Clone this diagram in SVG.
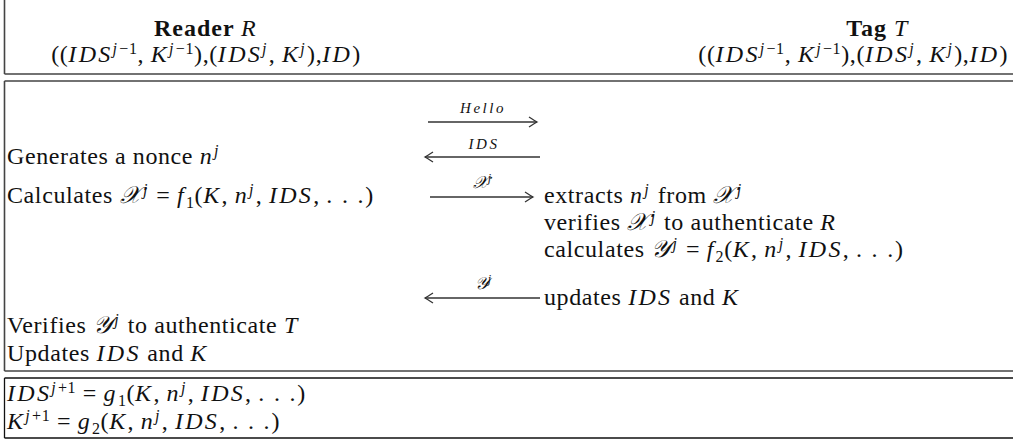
<svg xmlns="http://www.w3.org/2000/svg" width="1013" height="441" viewBox="0 0 1013 441">
<style>
.t{font-family:"Liberation Serif","DejaVu Serif",serif;font-size:24px;fill:#111;letter-spacing:0.6px}
.i{font-style:italic;letter-spacing:2.3px}
.b{font-weight:bold;letter-spacing:1px}
.sup{font-size:16px;baseline-shift:8px}
.sub{font-size:16px;baseline-shift:-5px}
.dots{letter-spacing:1.8px}
.lbl{font-family:"Liberation Serif","DejaVu Serif",serif;font-size:15px;font-style:italic;letter-spacing:2.5px;fill:#111}
.lblm{font-family:"Liberation Serif","DejaVu Serif",serif;font-size:17px;font-style:italic;fill:#111}
.frame{stroke:#444;stroke-width:1.6;fill:none}
.frame2{stroke:#111;stroke-width:1.3;fill:none}
.arr{stroke:#333;stroke-width:1.4;fill:none;marker-end:url(#ah)}
</style>
<defs>
<marker id="ah" viewBox="-9 -6 11 12" refX="0" refY="0" markerWidth="11" markerHeight="12" markerUnits="userSpaceOnUse" orient="auto">
<path d="M-8,-5 Q-2,-1 0,0 Q-2,1 -8,5" fill="none" stroke="#333" stroke-width="1.3"/>
</marker>
</defs>
<rect width="1013" height="441" fill="#fff"/>

<g id="frames">
<path class="frame" d="M4.5,0 V74 M4.5,74 H1013"/>
<path class="frame" d="M4.5,81 H1013 M4.5,81 V371 M4.5,371 H1013"/>
<path class="frame2" d="M4.5,378 H1013 M4.5,378 V438 M4.5,438 H1013"/>
</g>

<g id="reader-header">
<text class="t b" x="206" y="36" text-anchor="middle">Reader <tspan class="i" font-weight="normal">R</tspan></text>
<text class="t" x="206" y="62" text-anchor="middle">((<tspan class="i">IDS</tspan><tspan class="sup"><tspan class="i">j</tspan>−1</tspan>, <tspan class="i">K</tspan><tspan class="sup"><tspan class="i">j</tspan>−1</tspan>),(<tspan class="i">IDS</tspan><tspan class="sup i">j</tspan>, <tspan class="i">K</tspan><tspan class="sup i">j</tspan>),<tspan class="i">ID</tspan>)</text>
</g>

<g id="tag-header">
<text class="t b" x="878" y="36" text-anchor="middle">Tag <tspan class="i" font-weight="normal">T</tspan></text>
<text class="t" x="1008" y="62" text-anchor="end">((<tspan class="i">IDS</tspan><tspan class="sup"><tspan class="i">j</tspan>−1</tspan>, <tspan class="i">K</tspan><tspan class="sup"><tspan class="i">j</tspan>−1</tspan>),(<tspan class="i">IDS</tspan><tspan class="sup i">j</tspan>, <tspan class="i">K</tspan><tspan class="sup i">j</tspan>),<tspan class="i">ID</tspan>)</text>
</g>

<g id="reader-steps">
<text class="t" x="7" y="164">Generates a nonce <tspan class="i">n</tspan><tspan class="sup i">j</tspan></text>
<text class="t" x="7" y="203">Calculates <tspan class="i">𝒳</tspan><tspan class="sup i">j</tspan> = <tspan class="i">f</tspan><tspan class="sub">1</tspan>(<tspan class="i">K</tspan>, <tspan class="i">n</tspan><tspan class="sup i">j</tspan>, <tspan class="i">IDS</tspan>, <tspan class="dots">. . .</tspan>)</text>
<text class="t" x="7" y="333">Verifies <tspan class="i">𝒴</tspan><tspan class="sup i">j</tspan> to authenticate <tspan class="i">T</tspan></text>
<text class="t" x="7" y="361">Updates <tspan class="i">IDS</tspan> and <tspan class="i">K</tspan></text>
</g>

<g id="tag-steps">
<text class="t" x="544" y="203">extracts <tspan class="i">n</tspan><tspan class="sup i">j</tspan> from <tspan class="i">𝒳</tspan><tspan class="sup i">j</tspan></text>
<text class="t" x="544" y="230">verifies <tspan class="i">𝒳</tspan><tspan class="sup i">j</tspan> to authenticate <tspan class="i">R</tspan></text>
<text class="t" x="544" y="257">calculates <tspan class="i">𝒴</tspan><tspan class="sup i">j</tspan> = <tspan class="i">f</tspan><tspan class="sub">2</tspan>(<tspan class="i">K</tspan>, <tspan class="i">n</tspan><tspan class="sup i">j</tspan>, <tspan class="i">IDS</tspan>, <tspan class="dots">. . .</tspan>)</text>
<text class="t" x="544" y="305">updates <tspan class="i">IDS</tspan> and <tspan class="i">K</tspan></text>
</g>

<g id="update-box">
<text class="t" x="7" y="401"><tspan class="i">IDS</tspan><tspan class="sup"><tspan class="i">j</tspan>+1</tspan> = <tspan class="i">g</tspan><tspan class="sub">1</tspan>(<tspan class="i">K</tspan>, <tspan class="i">n</tspan><tspan class="sup i">j</tspan>, <tspan class="i">IDS</tspan>, <tspan class="dots">. . .</tspan>)</text>
<text class="t" x="7" y="429"><tspan class="i">K</tspan><tspan class="sup"><tspan class="i">j</tspan>+1</tspan> = <tspan class="i">g</tspan><tspan class="sub">2</tspan>(<tspan class="i">K</tspan>, <tspan class="i">n</tspan><tspan class="sup i">j</tspan>, <tspan class="i">IDS</tspan>, <tspan class="dots">. . .</tspan>)</text>
</g>

<g id="connectors">
<line class="arr" x1="428" y1="122" x2="537" y2="122"/>
<text class="lbl" x="483" y="113" text-anchor="middle">Hello</text>
<line class="arr" x1="540" y1="157" x2="425" y2="157"/>
<text class="lbl" x="484" y="149" text-anchor="middle">IDS</text>
<line class="arr" x1="430" y1="197" x2="533" y2="197"/>
<text class="lblm" x="482" y="188" text-anchor="middle">𝒳<tspan font-size="12" baseline-shift="6">j</tspan></text>
<line class="arr" x1="540" y1="298" x2="425" y2="298"/>
<text class="lblm" x="483" y="289" text-anchor="middle">𝒴<tspan font-size="12" baseline-shift="6">j</tspan></text>
</g>
</svg>
